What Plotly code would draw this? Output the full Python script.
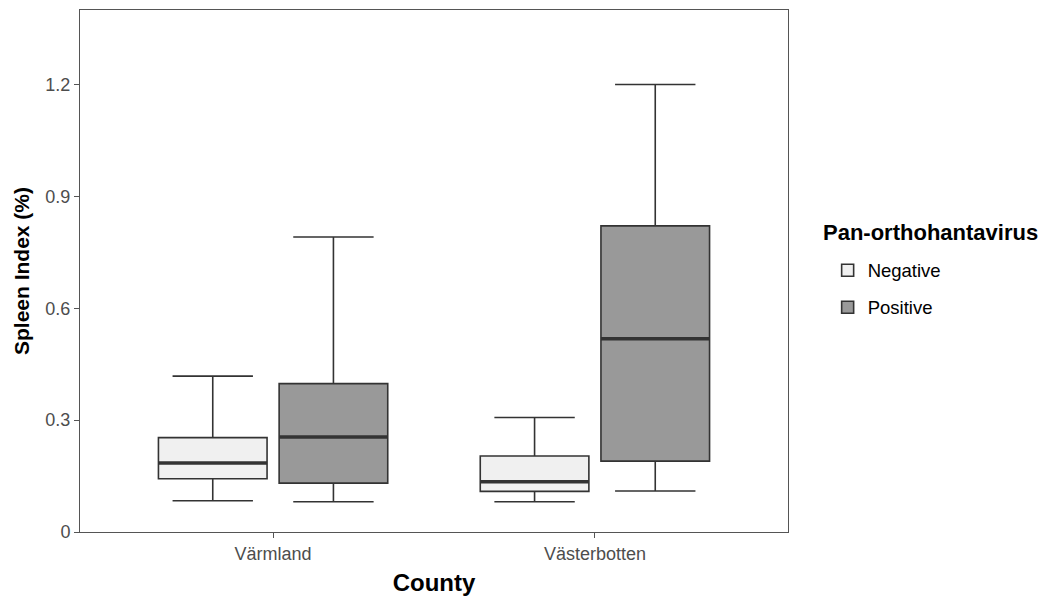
import plotly.graph_objects as go

counties = ["Värmland", "Västerbotten"]
groups = ["Negative", "Positive"]
lower = {"Negative": [0.084, 0.081], "Positive": [0.081, 0.110]}
q1 = {"Negative": [0.143, 0.109], "Positive": [0.131, 0.190]}
median = {"Negative": [0.185, 0.135], "Positive": [0.255, 0.518]}
q3 = {"Negative": [0.253, 0.204], "Positive": [0.398, 0.821]}
upper = {"Negative": [0.418, 0.307], "Positive": [0.791, 1.200]}
fills = {"Negative": "#f0f0f0", "Positive": "#999999"}
y_ticks = [0, 0.3, 0.6, 0.9, 1.2]
y_labels = ["0", "0.3", "0.6", "0.9", "1.2"]
legend_title = "Pan-orthohantavirus"

FONT = "Liberation Sans, Arial, sans-serif"
fig = go.Figure()
for g in groups:
    fig.add_trace(go.Box(
        name=g, x=counties, q1=q1[g], median=median[g], q3=q3[g],
        lowerfence=lower[g], upperfence=upper[g],
        fillcolor=fills[g], line=dict(color="#333333", width=1.6),
        whiskerwidth=0.74, offsetgroup=g, legendgroup=g, boxpoints=False,
        hoverinfo="skip",
    ))
for g in groups:
    fig.add_trace(go.Box(
        name=g, x=counties, q1=median[g], median=median[g], q3=median[g],
        lowerfence=median[g], upperfence=median[g],
        fillcolor="rgba(0,0,0,0)", line=dict(color="#333333", width=3.5),
        whiskerwidth=0, offsetgroup=g, legendgroup=g, boxpoints=False,
        showlegend=False, hoverinfo="skip",
    ))

fig.add_annotation(
    text="<b>" + legend_title + "</b>", xref="paper", yref="paper",
    x=1.047, y=(532 - 232) / 522, xanchor="left", yanchor="middle",
    showarrow=False, font=dict(size=22, color="black", family=FONT),
)

fig.update_layout(
    width=1052, height=606,
    margin=dict(l=80, r=264, t=10, b=74),
    paper_bgcolor="white", plot_bgcolor="white",
    boxmode="group", boxgap=0.25, boxgroupgap=0.1,
    font=dict(family=FONT, color="#4d4d4d", size=18),
    showlegend=True,
    legend=dict(
        x=1.056, y=0.537, xanchor="left", yanchor="top",
        font=dict(size=18.5, color="black"), tracegroupgap=10,
    ),
    xaxis=dict(
        type="category", range=[-0.6, 1.6], showgrid=False, zeroline=False,
        showline=True, mirror=True, linecolor="#555555", linewidth=1,
        ticks="outside", ticklen=5, tickcolor="#555555",
        tickfont=dict(size=18, color="#4d4d4d"),
        title=dict(text="<b>County</b>", font=dict(size=24, color="black"), standoff=11),
    ),
    yaxis=dict(
        range=[0, 1.4], showgrid=False, zeroline=False,
        showline=True, mirror=True, linecolor="#555555", linewidth=1,
        ticks="outside", ticklen=5, tickcolor="#555555",
        tickvals=y_ticks, ticktext=y_labels,
        tickfont=dict(size=18, color="#4d4d4d"),
        title=dict(text="<b>Spleen Index (%)</b>", font=dict(size=21, color="black"), standoff=10),
    ),
)
fig.write_html("out.html")
